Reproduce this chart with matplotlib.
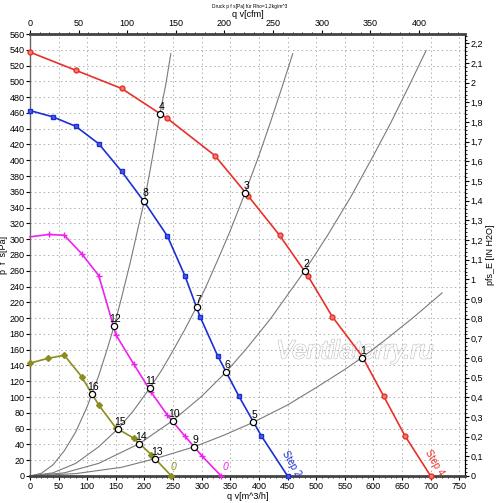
import matplotlib.pyplot as plt
import matplotlib.patheffects as pe
from matplotlib.ticker import MultipleLocator, FuncFormatter

plt.rcParams["font.family"] = ["Liberation Sans", "DejaVu Sans"]

# fan curves, qv [m^3/h] vs p f s [Pa]
q_step4 = [0, 80, 160, 240, 323, 381, 436, 486, 528, 580, 618, 655, 700]
p_step4 = [537, 514, 491, 453, 406, 355, 305, 253, 202, 152, 101, 51, 0]
m_step4 = [0, 1, 2, 3, 4, 5, 6, 7, 8, 10, 11, 12]

q_step2 = [0, 40, 80, 120, 160, 200, 240, 271, 297, 328, 365, 404, 450]
p_step2 = [463, 455, 443, 421, 386, 347, 304, 253, 202, 152, 101, 51, 0]

q_mag = [0, 33, 60, 91, 120, 135, 150, 181, 212, 240, 270, 301, 334]
p_mag = [303, 306, 305, 281, 254, 217, 179, 142, 106, 77, 51, 25, 0]
m_mag = [1, 2, 3, 4, 6, 7, 8, 9, 10, 11, 12]

q_olive = [0, 31, 60, 90, 120, 150, 181, 212, 247]
p_olive = [143, 149, 153, 126, 90, 61, 48, 27, 0]

# system curves
sysA_q = [0, 20, 40, 60, 80, 100, 108, 120, 135, 147, 160, 175, 190, 200, 213, 227, 237, 246]
sysA_p = [0, 3.5, 14, 32, 56, 88, 104, 127, 161, 190, 226, 270, 318, 349, 400, 459, 495, 535]
sysB_q = [0, 40, 80, 120, 154, 180, 209, 230, 250, 270, 291, 310, 330, 350, 376, 400, 420, 440, 459]
sysB_p = [0, 4, 16, 37, 60, 82, 111, 134, 159, 185, 214, 244, 277, 311, 359, 406, 448, 492, 535]
sysC_q = [0, 60, 120, 191, 249, 300, 343, 380, 420, 480, 520, 560, 600, 630, 660, 692]
sysC_p = [0, 4, 16, 41, 70, 101, 132, 163, 199, 260, 305, 353, 406, 447, 491, 539]
sysD_q = [0, 80, 160, 219, 287, 340, 390, 450, 500, 550, 580, 620, 670, 720]
sysD_p = [0, 3, 11, 22, 37, 52, 68, 90, 112, 135, 150, 172, 201, 232]

# operating points
op_num = [str(i) for i in range(1, 17)]
op_q = [580, 480, 376, 227, 390, 343, 291, 200, 287, 249, 209, 147, 219, 191, 154, 108]
op_p = [150, 260, 359, 459, 68, 132, 214, 349, 37, 70, 111, 190, 22, 41, 60, 104]

fig = plt.figure(figsize=(5.0, 5.03), dpi=100)
ax = fig.add_axes([0.06, 0.0537, 0.87, 0.8787])

ax.set_xlim(0, 760)
ax.set_ylim(0, 560)
ax.xaxis.set_major_locator(MultipleLocator(50))
ax.yaxis.set_major_locator(MultipleLocator(20))
ax.xaxis.set_minor_locator(MultipleLocator(10))
ax.grid(True, color='#b0b0b0', linestyle=(0, (1.5, 3)), linewidth=0.7)
ax.tick_params(labelsize=6.5, length=3, width=0.8, pad=1)
ax.tick_params(which='minor', length=1.5, width=0.6)

for s in ['bottom', 'top']:
    ax.spines[s].set_linewidth(2)
    ax.spines[s].set_color('#444444')
ax.spines['left'].set_color('#666666')
ax.spines['left'].set_linewidth(1)

gray = '#7a7a7a'
for qs, ps in [(sysA_q, sysA_p), (sysB_q, sysB_p), (sysC_q, sysC_p), (sysD_q, sysD_p)]:
    ax.plot(qs, ps, color=gray, linewidth=0.8, zorder=2)

ax.plot(q_step4, p_step4, color='#e8302a', linewidth=1.2, marker='o', markersize=3.5,
        markerfacecolor='#f07a70', markeredgecolor='#e8302a', markevery=m_step4, zorder=3, clip_on=False)
ax.plot(q_step2, p_step2, color='#1c2fd2', linewidth=1.2, marker='s', markersize=3.5,
        markerfacecolor='#4a5cf0', markeredgecolor='#1c2fd2', zorder=3, clip_on=False)
ax.plot(q_mag, p_mag, color='#ee22ee', linewidth=1.2, marker='+', markersize=5,
        markeredgewidth=1, markevery=m_mag, zorder=3, clip_on=False)
ax.plot(q_olive, p_olive, color='#8c8c20', linewidth=1.2, marker='D', markersize=3,
        zorder=3, clip_on=False)

ax.plot(op_q, op_p, linestyle='none', marker='o', markersize=4.5, markerfacecolor='white',
        markeredgecolor='black', markeredgewidth=0.9, zorder=4)
for lab, qx, py in zip(op_num, op_q, op_p):
    ax.annotate(lab, (qx, py), xytext=(1, 1.5), textcoords='offset points',
                ha='center', va='bottom', fontsize=7.5, zorder=5)

ax.text(707, 17, 'Step 4', color='#e8302a', fontsize=7, rotation=-60, ha='center', va='center')
ax.text(457, 15, 'Step 2', color='#1c2fd2', fontsize=7, rotation=-60, ha='center', va='center')
ax.text(341, 12, '0', color='#ee22ee', fontsize=7.5, style='italic', ha='center', va='center')
ax.text(251, 12, '0', color='#8c8c20', fontsize=7.5, style='italic', ha='center', va='center')

ax.text(568, 158, 'Ventilatorry.ru', fontsize=18.5, style='italic', color='white', ha='center',
        va='center', zorder=1,
        path_effects=[pe.withStroke(linewidth=1.2, foreground='#c8c8c8'), pe.Normal()])

ax.set_xlabel('q v[m^3/h]', fontsize=6.5, labelpad=1)
ax.set_ylabel('p  f  s[Pa]', fontsize=6.5, labelpad=1)

# top axis in cfm
top = ax.secondary_xaxis('top', functions=(lambda q: q / 1.699, lambda c: c * 1.699))
top.xaxis.set_major_locator(MultipleLocator(50))
top.xaxis.set_minor_locator(MultipleLocator(10))
top.tick_params(labelsize=6.5, length=3, pad=1)
top.tick_params(which='minor', length=1.5, width=0.6)
top.set_xlabel('q v[cfm]', fontsize=6.5, labelpad=2)

# right axis in inch H2O
right = ax.secondary_yaxis('right', functions=(lambda p: p / 249.089, lambda h: h * 249.089))
right.yaxis.set_major_locator(MultipleLocator(0.1))
right.yaxis.set_minor_locator(MultipleLocator(0.02))
right.yaxis.set_major_formatter(FuncFormatter(lambda v, pos: f'{v:.1f}'.replace('.0', '').replace('.', ',')))
right.tick_params(labelsize=6.5, length=3, pad=1)
right.tick_params(which='minor', length=1.5, width=0.6)
right.set_ylabel('pfs_E [IN H2O]', fontsize=6.5, labelpad=2)

fig.text(0.5, 0.987, 'Druck p f s[Pa] für Rho=1,2kg/m^3', fontsize=3.5, ha='center', va='center')

fig.savefig('out.png', dpi=100)
